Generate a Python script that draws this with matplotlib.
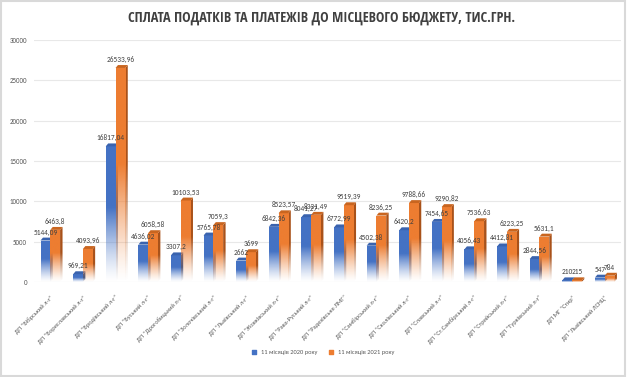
import numpy as np
import matplotlib.pyplot as plt
from matplotlib.patches import Rectangle, Polygon
from matplotlib.colors import to_rgb

plt.rcParams['font.family'] = ['Carlito', 'DejaVu Sans']

categories = ['ДП “Бібрський л-г”', 'ДП “Бориславський л-г”', 'ДП “Бродівський л-г”',
              'ДП “Буський л-г”', 'ДП “Дрогобицький л-г”', 'ДП “Золочівський л-г”',
              'ДП “Львівський л-г”', 'ДП “Жовківський л-г”', 'ДП “Рава-Руський л-г”',
              'ДП “Радехівське ЛМГ”', 'ДП “Самбірський л-г”', 'ДП “Сколівський л-г”',
              'ДП “Славський л-г”', 'ДП “Ст.Самбірський л-г”', 'ДП “Стрийський л-г”',
              'ДП “Турківський л-г”', 'ДП МГ “Стир”', 'ДП “Львівський ЛСНЦ”']
vals_2020 = [5144.09, 969.21, 16817.04, 4636.02, 3307.2, 5765.78, 2662, 6842.36, 8041.27,
             6772.99, 4502.38, 6420.2, 7454.65, 4056.43, 4412.81, 2844.56, 210, 547]
vals_2021 = [6463.8, 4093.96, 26533.96, 6058.58, 10103.53, 7059.3, 3699, 8523.57, 8331.49,
             9519.39, 8236.25, 9788.66, 9290.82, 7536.63, 6223.25, 5631.1, 215, 784]
series_names = ['11 місяців 2020 року', '11 місяців 2021 року']
yticks = [0, 5000, 10000, 15000, 20000, 25000, 30000]

blue, blue_side, blue_top = '#4472C4', '#2F528F', '#3A63AE'
orange, orange_side, orange_top = '#ED7D31', '#A9521A', '#C9651F'

fig = plt.figure(figsize=(6.4, 3.77), dpi=100)
ax = fig.add_axes([34 / 640, 95 / 377, 587 / 640, 242 / 377])

W = 0.3
DX, DY = 0.075, 360


def fmt(v):
    return f"{v:.2f}".rstrip('0').rstrip('.').replace('.', ',')


def grad_fill(patch, rgb, ext, h):
    ax.add_patch(patch)
    n = 256
    t = np.linspace(0, 1, n)
    y = ext[2] + t * (ext[3] - ext[2])
    a = np.clip(y / (0.55 * h), 0, 1) ** 1.3
    arr = np.ones((n, 1, 4))
    arr[:, 0, :3] = rgb
    arr[:, 0, 3] = a
    im = ax.imshow(arr, extent=ext, origin='lower', aspect='auto',
                   interpolation='bilinear', zorder=patch.get_zorder())
    im.set_clip_path(patch)


def bar3d(x0, h, face, side, top, z):
    h = max(h, 1)
    front = Rectangle((x0, 0), W, h, facecolor='none', edgecolor='none', zorder=z)
    sd = Polygon([(x0 + W, 0), (x0 + W + DX, DY), (x0 + W + DX, h + DY), (x0 + W, h)],
                 closed=True, facecolor='none', edgecolor='none', zorder=z)
    grad_fill(sd, to_rgb(side), (x0 + W, x0 + W + DX, 0, h + DY), h)
    grad_fill(front, to_rgb(face), (x0, x0 + W, 0, h), h)
    tp = Polygon([(x0, h), (x0 + DX, h + DY), (x0 + W + DX, h + DY), (x0 + W, h)],
                 closed=True, facecolor=top, edgecolor='none', zorder=z + 0.5)
    ax.add_patch(tp)


for y in yticks:
    ax.axhline(y, color='#e8e8e8', lw=0.8, zorder=0)

x = np.arange(len(categories))
for i in x:
    bar3d(i - W, vals_2020[i], blue, blue_side, blue_top, 2)
    bar3d(i, vals_2021[i], orange, orange_side, orange_top, 3)
    ax.annotate(fmt(vals_2020[i]), (i - W / 2, vals_2020[i] + DY), xytext=(0, 1.5),
                textcoords='offset points', ha='center', va='bottom', fontsize=5.3,
                color='#404040', zorder=5)
    ax.annotate(fmt(vals_2021[i]), (i + W / 2, vals_2021[i] + DY), xytext=(0, 1.5),
                textcoords='offset points', ha='center', va='bottom', fontsize=5.3,
                color='#404040', zorder=5)

ax.set_xlim(-0.5, len(categories) - 0.5)
ax.set_ylim(0, 30000)
ax.set_yticks(yticks)
ax.set_yticklabels([str(v) for v in yticks], fontsize=5, color='#595959')
ax.set_xticks(x)
ax.set_xticklabels(categories, rotation=45, ha='right', rotation_mode='anchor',
                   fontsize=4.6, color='#595959')
ax.tick_params(length=0, axis='y', pad=5)
ax.tick_params(length=0, axis='x', pad=9)
for s in ax.spines.values():
    s.set_visible(False)

h1 = ax.scatter([], [], marker='s', s=5, color=blue, label=series_names[0])
h2 = ax.scatter([], [], marker='s', s=5, color=orange, label=series_names[1])
fig.legend(handles=[h1, h2], loc='center', bbox_to_anchor=(321 / 640, 1 - 352 / 377),
           ncol=2, frameon=False, fontsize=4.6, handletextpad=0.2, columnspacing=1.0,
           labelcolor='#595959')

fig.text(322 / 640, 1 - 18 / 377, 'СПЛАТА ПОДАТКІВ ТА ПЛАТЕЖІВ ДО МІСЦЕВОГО БЮДЖЕТУ, ТИС.ГРН.',
         ha='center', va='center', fontsize=10.3, color='#404040',
         family=['Open Sans Condensed', 'Fira Sans Condensed', 'Carlito', 'DejaVu Sans'])

fig.patches.append(Rectangle((1 / 640, 1 / 377), 624 / 640, 375 / 377, transform=fig.transFigure,
                             fill=False, edgecolor='#d9d9d9', lw=1.5))

fig.savefig('out.png', dpi=100)
